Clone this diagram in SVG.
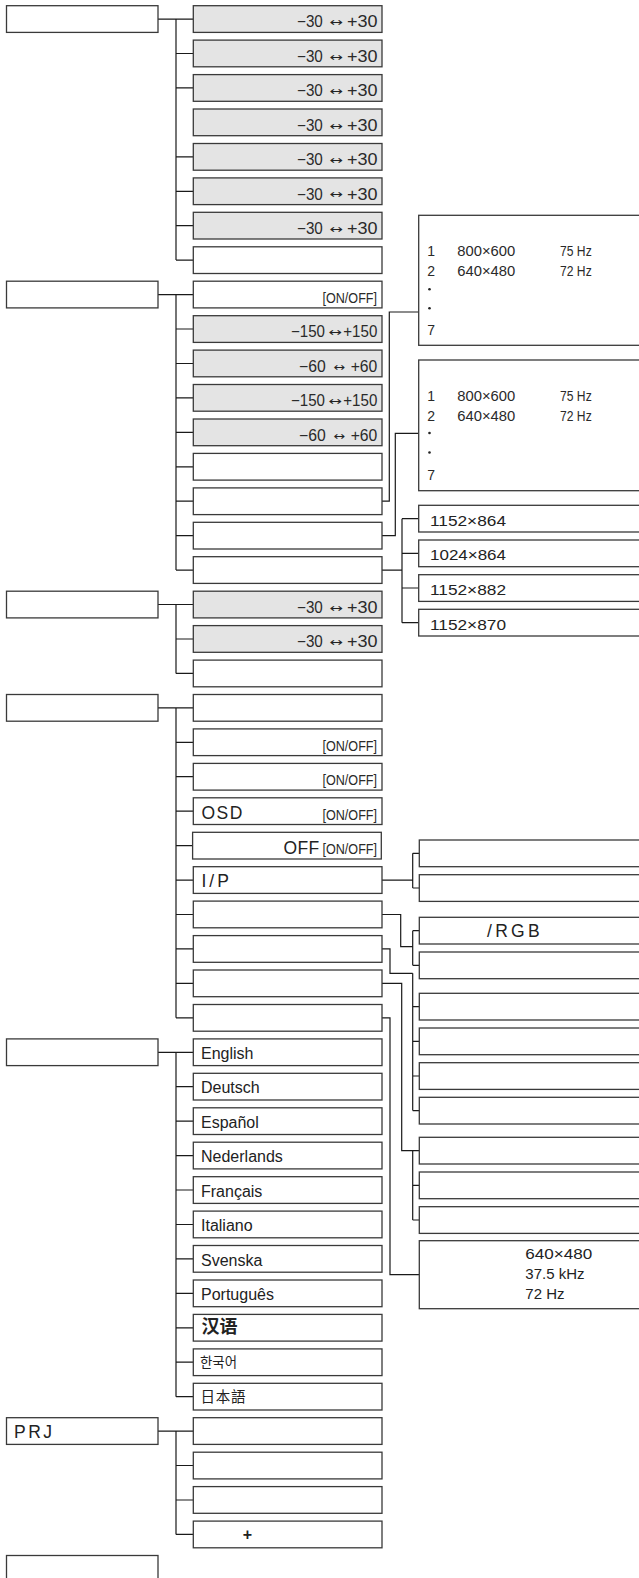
<svg xmlns="http://www.w3.org/2000/svg" xmlns:xlink="http://www.w3.org/1999/xlink" width="639" height="1578" viewBox="0 0 639 1578">
<style>
.b{fill:#fff;stroke:#3a3a3a;stroke-width:1.3}
.s{fill:#e4e4e4;stroke:#3a3a3a;stroke-width:1.3}
.ln{fill:none;stroke:#1a1a1a;stroke-width:1.2}
.n{font-family:"Liberation Sans",Arial,sans-serif;font-size:16px;fill:#2a2a2a}
.ar{font-family:"DejaVu Sans",sans-serif;font-size:12px;fill:#222}
.c{font-family:"Liberation Sans Narrow","Liberation Sans",Arial,sans-serif;font-size:14px;fill:#2a2a2a}
.t{font-family:"Liberation Sans",Arial,sans-serif;font-size:16px;fill:#222}
.sp{font-family:"Liberation Sans",Arial,sans-serif;font-size:17.5px;fill:#222}
.r{font-family:"Liberation Sans",Arial,sans-serif;font-size:15px;fill:#222}
.cj{font-family:"Liberation Sans","Noto Sans CJK SC",sans-serif;fill:#222}
</style>
<defs>
<g id="r30"><text class="n" x="297" y="21.8" textLength="25.8" lengthAdjust="spacingAndGlyphs">−30</text><text class="ar" x="329.3" y="20.6" textLength="13.4" lengthAdjust="spacingAndGlyphs">↔</text><text class="n" x="347" y="21.8" textLength="30.5" lengthAdjust="spacingAndGlyphs">+30</text></g>
<g id="r150"><text class="n" x="291" y="21.8" textLength="34" lengthAdjust="spacingAndGlyphs">−150</text><text class="ar" x="328.3" y="20.6" textLength="13.4" lengthAdjust="spacingAndGlyphs">↔</text><text class="n" x="343.3" y="21.8" textLength="34" lengthAdjust="spacingAndGlyphs">+150</text></g>
<g id="r60"><text class="n" x="299" y="21.8" textLength="26.7" lengthAdjust="spacingAndGlyphs">−60</text><text class="ar" x="333.3" y="20.6" textLength="11.7" lengthAdjust="spacingAndGlyphs">↔</text><text class="n" x="350.7" y="21.8" textLength="26.6" lengthAdjust="spacingAndGlyphs">+60</text></g>
<g id="oo"><text class="c" x="322.5" y="21.8" textLength="54.5" lengthAdjust="spacingAndGlyphs">[ON/OFF]</text></g>
</defs>

<g id="connectors">
<path class="ln" d="M158,19.1H193.3M176,19.1V260.1M176,53.5H193.3M176,87.9H193.3M176,156.8H193.3M176,191.3H193.3M176,225.7H193.3M176,260.1H193.3"/>
<path class="ln" d="M158,294.6H193.3M176,294.6V570.1M176,329H193.3M176,363.5H193.3M176,397.9H193.3M176,432.3H193.3M176,466.8H193.3M176,501.2H193.3M176,535.7H193.3M176,570.1H193.3"/>
<path class="ln" d="M158,604.5H193.3M176,604.5V673.4M176,639H193.3M176,673.4H193.3"/>
<path class="ln" d="M158,707.9H193.3M176,707.9V1017.8M176,742.3H193.3M176,776.7H193.3M176,811.2H193.3M176,845.6H193.3M176,880.1H193.3M176,914.5H193.3M176,948.9H193.3M176,983.4H193.3M176,1017.8H193.3"/>
<path class="ln" d="M158,1052.3H193.3M176,1052.3V1396.7M176,1086.7H193.3M176,1121.1H193.3M176,1155.6H193.3M176,1190H193.3M176,1224.5H193.3M176,1258.9H193.3M176,1293.3H193.3M176,1327.8H193.3M176,1362.2H193.3M176,1396.7H193.3"/>
<path class="ln" d="M158,1431.1H193.3M176,1431.1V1534.4M176,1465.5H193.3M176,1500H193.3M176,1534.4H193.3"/>
<path class="ln" d="M382,501.2H389.3V312H418.7M382,535.7H395.3V433.3H418.7"/>
<path class="ln" d="M382,570.1H402M402,518.7V622.7M402,518.7H418.7M402,553.3H418.7M402,588H418.7M402,622.7H418.7"/>
<path class="ln" d="M382,880.1H412.7M412.7,853.3V888M412.7,853.3H419.3M412.7,888H419.3"/>
<path class="ln" d="M382,914.5H400.7V946.7H412.7M412.7,930.7V965.3M412.7,930.7H419.3M412.7,965.3H419.3"/>
<path class="ln" d="M382,948.9H390V973.3H412.7M412.7,973.3V1110.6M412.7,1006.7H419.3M412.7,1041.3H419.3M412.7,1076H419.3M412.7,1110.6H419.3"/>
<path class="ln" d="M382,983.4H401.7V1150.7H412.7M412.7,1150.7V1220M412.7,1150.7H419.3M412.7,1185.3H419.3M412.7,1220H419.3"/>
<path class="ln" d="M382,1017.8H390V1274.7H419.3"/>
</g>

<g id="top1"><rect class="b" x="6.5" y="5.7" width="151.5" height="26.7"/></g>
<g id="n0"><rect class="s" x="193.3" y="5.7" width="188.7" height="26.7"/><use xlink:href="#r30" y="5.7"/></g>
<g id="n1"><rect class="s" x="193.3" y="40.1" width="188.7" height="26.7"/><use xlink:href="#r30" y="40.1"/></g>
<g id="n2"><rect class="s" x="193.3" y="74.6" width="188.7" height="26.7"/><use xlink:href="#r30" y="74.6"/></g>
<g id="n3"><rect class="s" x="193.3" y="109" width="188.7" height="26.7"/><use xlink:href="#r30" y="109"/></g>
<g id="n4"><rect class="s" x="193.3" y="143.5" width="188.7" height="26.7"/><use xlink:href="#r30" y="143.5"/></g>
<g id="n5"><rect class="s" x="193.3" y="177.9" width="188.7" height="26.7"/><use xlink:href="#r30" y="177.9"/></g>
<g id="n6"><rect class="s" x="193.3" y="212.3" width="188.7" height="26.7"/><use xlink:href="#r30" y="212.3"/></g>
<g id="n7"><rect class="b" x="193.3" y="246.8" width="188.7" height="26.7"/></g>

<g id="top2"><rect class="b" x="6.5" y="281.2" width="151.5" height="26.7"/></g>
<g id="n8"><rect class="b" x="193.3" y="281.2" width="188.7" height="26.7"/><use xlink:href="#oo" y="281.2"/></g>
<g id="n9"><rect class="s" x="193.3" y="315.7" width="188.7" height="26.7"/><use xlink:href="#r150" y="315.7"/></g>
<g id="n10"><rect class="s" x="193.3" y="350.1" width="188.7" height="26.7"/><use xlink:href="#r60" y="350.1"/></g>
<g id="n11"><rect class="s" x="193.3" y="384.5" width="188.7" height="26.7"/><use xlink:href="#r150" y="384.5"/></g>
<g id="n12"><rect class="s" x="193.3" y="419" width="188.7" height="26.7"/><use xlink:href="#r60" y="419"/></g>
<g id="n13"><rect class="b" x="193.3" y="453.4" width="188.7" height="26.7"/></g>
<g id="n14"><rect class="b" x="193.3" y="487.9" width="188.7" height="26.7"/></g>
<g id="n15"><rect class="b" x="193.3" y="522.3" width="188.7" height="26.7"/></g>
<g id="n16"><rect class="b" x="193.3" y="556.7" width="188.7" height="26.7"/></g>

<g id="list1"><rect class="b" x="418.7" y="215.3" width="240" height="130"/>
<text class="c" x="427.3" y="256">1</text><text class="c" x="457.3" y="256" textLength="58" lengthAdjust="spacingAndGlyphs">800×600</text><text class="c" x="560" y="256" textLength="31.7" lengthAdjust="spacingAndGlyphs">75 Hz</text>
<text class="c" x="427.3" y="276">2</text><text class="c" x="457.3" y="276" textLength="58" lengthAdjust="spacingAndGlyphs">640×480</text><text class="c" x="560" y="276" textLength="31.7" lengthAdjust="spacingAndGlyphs">72 Hz</text>
<circle cx="429.5" cy="289.3" r="1.3" fill="#222"/><circle cx="429.5" cy="308.3" r="1.3" fill="#222"/>
<text class="c" x="427.3" y="335">7</text></g>
<g id="list2"><rect class="b" x="418.7" y="360" width="240" height="130.7"/>
<text class="c" x="427.3" y="400.5">1</text><text class="c" x="457.3" y="400.5" textLength="58" lengthAdjust="spacingAndGlyphs">800×600</text><text class="c" x="560" y="400.5" textLength="31.7" lengthAdjust="spacingAndGlyphs">75 Hz</text>
<text class="c" x="427.3" y="420.5">2</text><text class="c" x="457.3" y="420.5" textLength="58" lengthAdjust="spacingAndGlyphs">640×480</text><text class="c" x="560" y="420.5" textLength="31.7" lengthAdjust="spacingAndGlyphs">72 Hz</text>
<circle cx="429.5" cy="433" r="1.3" fill="#222"/><circle cx="429.5" cy="452.5" r="1.3" fill="#222"/>
<text class="c" x="427.3" y="479.5">7</text></g>
<g id="res1"><rect class="b" x="418.7" y="505.3" width="240" height="26.7"/><text class="r" x="430" y="525.5" textLength="76" lengthAdjust="spacingAndGlyphs">1152×864</text></g>
<g id="res2"><rect class="b" x="418.7" y="540" width="240" height="26.7"/><text class="r" x="430" y="560.2" textLength="76" lengthAdjust="spacingAndGlyphs">1024×864</text></g>
<g id="res3"><rect class="b" x="418.7" y="574.7" width="240" height="26.7"/><text class="r" x="430" y="594.9" textLength="76" lengthAdjust="spacingAndGlyphs">1152×882</text></g>
<g id="res4"><rect class="b" x="418.7" y="609.3" width="240" height="26.7"/><text class="r" x="430" y="629.5" textLength="76" lengthAdjust="spacingAndGlyphs">1152×870</text></g>

<g id="top3"><rect class="b" x="6.5" y="591.2" width="151.5" height="26.7"/></g>
<g id="n17"><rect class="s" x="193.3" y="591.2" width="188.7" height="26.7"/><use xlink:href="#r30" y="591.2"/></g>
<g id="n18"><rect class="s" x="193.3" y="625.6" width="188.7" height="26.7"/><use xlink:href="#r30" y="625.6"/></g>
<g id="n19"><rect class="b" x="193.3" y="660.1" width="188.7" height="26.7"/></g>

<g id="top4"><rect class="b" x="6.5" y="694.5" width="151.5" height="26.7"/></g>
<g id="n20"><rect class="b" x="193.3" y="694.5" width="188.7" height="26.7"/></g>
<g id="n21"><rect class="b" x="193.3" y="728.9" width="188.7" height="26.7"/><use xlink:href="#oo" y="728.9"/></g>
<g id="n22"><rect class="b" x="193.3" y="763.4" width="188.7" height="26.7"/><use xlink:href="#oo" y="763.4"/></g>
<g id="n23"><rect class="b" x="193.3" y="797.8" width="188.7" height="26.7"/><text class="sp" x="201.5" y="819.3" letter-spacing="1.5">OSD</text><use xlink:href="#oo" y="797.8"/></g>
<g id="n24"><rect class="b" x="192.6" y="832.3" width="188.7" height="26.7"/><text class="sp" x="283.5" y="853.8" letter-spacing="0.3">OFF</text><use xlink:href="#oo" y="832.3"/></g>
<g id="n25"><rect class="b" x="193.3" y="866.7" width="188.7" height="26.7"/><text class="sp" x="201.5" y="887.2" letter-spacing="3">I/P</text></g>
<g id="n26"><rect class="b" x="193.3" y="901.1" width="188.7" height="26.7"/></g>
<g id="n27"><rect class="b" x="193.3" y="935.6" width="188.7" height="26.7"/></g>
<g id="n28"><rect class="b" x="193.3" y="970" width="188.7" height="26.7"/></g>
<g id="n29"><rect class="b" x="193.3" y="1004.5" width="188.7" height="26.7"/></g>

<g id="ip1"><rect class="b" x="419.3" y="840" width="240" height="26.7"/></g>
<g id="ip2"><rect class="b" x="419.3" y="874.7" width="240" height="26.7"/></g>
<g id="a1"><rect class="b" x="419.3" y="917.3" width="240" height="26.7"/><text class="sp" x="487" y="936.5" font-size="16.5" letter-spacing="3.3">/RGB</text></g>
<g id="a2"><rect class="b" x="419.3" y="952" width="240" height="26.7"/></g>
<g id="b1"><rect class="b" x="419.3" y="993.3" width="240" height="26.7"/></g>
<g id="b2"><rect class="b" x="419.3" y="1028" width="240" height="26.7"/></g>
<g id="b3"><rect class="b" x="419.3" y="1062.7" width="240" height="26.7"/></g>
<g id="b4"><rect class="b" x="419.3" y="1097.3" width="240" height="26.7"/></g>
<g id="c1"><rect class="b" x="419.3" y="1137.3" width="240" height="26.7"/></g>
<g id="c2"><rect class="b" x="419.3" y="1172" width="240" height="26.7"/></g>
<g id="c3"><rect class="b" x="419.3" y="1206.7" width="240" height="26.7"/></g>
<g id="d1"><rect class="b" x="419.3" y="1240.7" width="240" height="68"/>
<text class="r" x="525.3" y="1259" textLength="67" lengthAdjust="spacingAndGlyphs">640×480</text>
<text class="r" x="525.3" y="1279">37.5 kHz</text>
<text class="r" x="525.3" y="1299">72 Hz</text></g>

<g id="top5"><rect class="b" x="6.5" y="1038.9" width="151.5" height="26.7"/></g>
<g id="l0"><rect class="b" x="193.3" y="1038.9" width="188.7" height="26.7"/><text class="t" x="201" y="1059">English</text></g>
<g id="l1"><rect class="b" x="193.3" y="1073.3" width="188.7" height="26.7"/><text class="t" x="201" y="1093.4">Deutsch</text></g>
<g id="l2"><rect class="b" x="193.3" y="1107.8" width="188.7" height="26.7"/><text class="t" x="201" y="1127.9">Español</text></g>
<g id="l3"><rect class="b" x="193.3" y="1142.2" width="188.7" height="26.7"/><text class="t" x="201" y="1162.3">Nederlands</text></g>
<g id="l4"><rect class="b" x="193.3" y="1176.7" width="188.7" height="26.7"/><text class="t" x="201" y="1196.8">Français</text></g>
<g id="l5"><rect class="b" x="193.3" y="1211.1" width="188.7" height="26.7"/><text class="t" x="201" y="1231.2">Italiano</text></g>
<g id="l6"><rect class="b" x="193.3" y="1245.5" width="188.7" height="26.7"/><text class="t" x="201" y="1265.6">Svenska</text></g>
<g id="l7"><rect class="b" x="193.3" y="1280" width="188.7" height="26.7"/><text class="t" x="201" y="1300.1">Português</text></g>
<g id="l8"><rect class="b" x="193.3" y="1314.4" width="188.7" height="26.7"/><text class="cj" x="201.5" y="1333" font-size="18" font-weight="bold">汉语</text></g>
<g id="l9"><rect class="b" x="193.3" y="1348.9" width="188.7" height="26.7"/><text class="cj" x="200" y="1367" font-size="14" font-family="'Liberation Sans','Noto Sans CJK KR',sans-serif" textLength="37" lengthAdjust="spacingAndGlyphs">한국어</text></g>
<g id="l10"><rect class="b" x="193.3" y="1383.3" width="188.7" height="26.7"/><text class="cj" x="200.5" y="1401.5" font-size="14.5" font-family="'Liberation Sans','Noto Sans CJK JP',sans-serif" textLength="45" lengthAdjust="spacing">日本語</text></g>

<g id="top6"><rect class="b" x="6.5" y="1417.7" width="151.5" height="26.7"/><text class="sp" x="14" y="1437.8" font-size="17" letter-spacing="2.5">PRJ</text></g>
<g id="p0"><rect class="b" x="193.3" y="1417.7" width="188.7" height="26.7"/></g>
<g id="p1"><rect class="b" x="193.3" y="1452.2" width="188.7" height="26.7"/></g>
<g id="p2"><rect class="b" x="193.3" y="1486.6" width="188.7" height="26.7"/></g>
<g id="p3"><rect class="b" x="193.3" y="1521.1" width="188.7" height="26.7"/><text class="t" x="247.5" y="1540" text-anchor="middle" font-weight="bold">+</text></g>

<g id="top7"><rect class="b" x="6.5" y="1555.5" width="151.5" height="26.7"/></g>
</svg>
